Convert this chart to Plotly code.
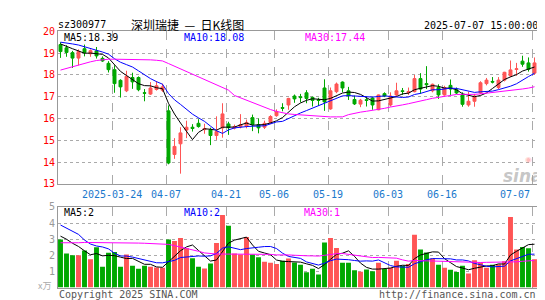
import plotly.graph_objects as go

# ---------------- data ----------------
dates = ["03-11","03-12","03-13","03-14","03-17","03-18","03-19","03-20","03-21","03-24",
         "03-25","03-26","03-27","03-28","03-31","04-01","04-02","04-03","04-07","04-08",
         "04-09","04-10","04-11","04-14","04-15","04-16","04-17","04-18","04-21","04-22",
         "04-23","04-24","04-25","04-28","04-29","04-30","05-06","05-07","05-08","05-09",
         "05-12","05-13","05-14","05-15","05-16","05-19","05-20","05-21","05-22","05-23",
         "05-26","05-27","05-28","05-29","05-30","06-03","06-04","06-05","06-06","06-09",
         "06-10","06-11","06-12","06-13","06-16","06-17","06-18","06-19","06-20","06-23",
         "06-24","06-25","06-26","06-27","06-30","07-01","07-02","07-03","07-04","07-07"]

opens = [19.39,19.24,19.02,18.77,19.20,18.97,19.10,18.76,18.53,18.24,
         17.75,17.27,17.88,17.88,17.18,17.12,17.33,17.30,16.35,14.35,
         14.84,15.47,15.60,15.78,15.49,15.48,15.22,15.57,15.75,15.56,
         15.62,15.65,16.04,15.72,15.60,15.82,16.13,16.50,16.62,17.03,
         17.00,17.18,16.97,16.86,17.40,16.44,17.23,17.67,17.27,16.87,
         16.66,16.86,16.94,16.40,17.14,16.62,17.08,17.27,17.18,17.23,
         17.83,17.60,17.27,17.42,17.08,17.52,17.32,17.10,16.62,16.79,
         17.17,17.60,17.70,17.42,17.76,17.96,18.25,18.63,18.55,18.08]
highs = [19.50,19.36,19.10,19.17,19.39,19.17,19.28,18.85,18.63,18.44,
         17.80,18.19,18.10,17.93,17.35,17.67,17.72,17.60,16.60,15.10,
         15.60,15.90,15.74,15.97,15.76,15.58,16.10,16.70,15.85,15.72,
         16.20,15.95,16.18,16.00,15.90,16.15,16.42,16.70,16.95,17.10,
         17.13,17.30,17.00,16.95,17.80,17.42,17.65,17.70,17.45,17.05,
         16.90,16.98,16.98,17.10,17.20,17.20,17.64,17.40,17.42,18.00,
         18.08,18.40,17.60,17.57,17.50,17.79,17.42,17.20,17.23,17.13,
         17.71,17.86,17.90,17.90,18.14,18.66,18.55,18.88,18.80,18.80]
lows = [18.78,18.83,18.32,18.44,18.85,18.83,18.75,18.60,18.11,17.18,
        16.96,17.21,17.36,17.25,16.79,17.08,17.28,17.22,13.90,14.15,
        13.47,15.10,15.40,15.58,15.30,14.78,15.02,15.12,15.25,15.50,
        15.55,15.55,15.42,15.32,15.52,15.75,16.08,16.33,16.40,16.72,
        16.74,16.70,16.55,16.58,16.35,16.40,17.16,17.20,16.85,16.62,
        16.52,16.55,16.40,16.38,16.98,16.55,17.02,17.08,17.08,17.20,
        17.13,17.35,17.20,16.90,17.05,17.08,17.12,16.54,16.54,16.54,
        17.12,17.52,17.61,17.35,17.70,17.90,17.96,18.37,18.15,18.00]
closes = [19.07,19.03,18.77,19.07,19.02,19.11,18.87,18.64,18.24,17.60,
          17.45,17.93,17.68,17.32,17.16,17.40,17.50,17.45,13.96,14.72,
          15.34,15.60,15.54,15.63,15.54,15.22,15.40,16.21,15.58,15.63,
          15.72,15.82,15.72,15.57,15.78,16.09,16.31,16.47,16.92,16.90,
          16.96,16.92,16.83,16.83,16.76,17.27,17.58,17.40,17.04,16.67,
          16.84,16.83,16.62,17.08,17.03,17.03,17.27,17.24,17.24,17.83,
          17.35,17.55,17.57,17.08,17.42,17.35,17.17,16.65,16.79,17.03,
          17.64,17.76,17.67,17.76,18.12,18.23,18.28,18.49,18.26,18.55]
volumes = [2.99,2.12,2.00,2.00,2.30,1.76,2.50,1.29,2.16,2.20,
           1.29,2.06,1.35,1.17,1.35,1.29,1.25,1.23,2.99,2.89,
           3.07,2.44,1.82,1.29,1.19,1.49,2.77,4.50,3.84,2.12,
           2.06,3.13,2.06,1.88,1.60,1.54,1.47,1.66,1.80,1.56,
           1.41,0.95,1.17,0.81,2.79,3.07,2.46,1.54,1.54,1.07,
           0.99,1.13,1.01,1.54,1.15,1.23,1.66,1.35,1.47,3.27,
           2.36,2.18,1.80,1.41,1.23,1.11,0.97,1.35,0.87,1.70,
           1.56,1.23,1.41,1.45,1.64,4.38,2.36,2.51,2.44,1.76]

# moving-average values before enough bars exist in the window
ma5_start = [19.42,19.30,19.20,19.10]
ma10_start = [19.50,19.47,19.42,19.37,19.30,19.22,19.13,19.05,18.95]
ma30_start = [18.22,18.30,18.38,18.46,18.53,18.60,18.66,18.70,18.72,18.72,
              18.72,18.72,18.72,18.71,18.70,18.69,18.67,18.64,18.52,18.40,
              18.28,18.16,18.04,17.92,17.80,17.68,17.56,17.44,17.30]
vma5_start = [3.19,3.00,2.75,2.55]
vma10_start = [3.88,3.70,3.50,3.30,2.95,2.70,2.58,2.52,2.40]
vma30_start = [2.78,2.77,2.76,2.78,2.80,2.80,2.80,2.80,2.80,2.80,
               2.79,2.78,2.77,2.76,2.75,2.74,2.73,2.72,2.68,2.60,
               2.52,2.45,2.35,2.25,2.15,2.10,2.08,2.08,2.08]

tick_dates = ["03-24","04-07","04-21","05-06","05-19","06-03","06-16","07-07"]
tick_text = ["2025-03-24","04-07","04-21","05-06","05-19","06-03","06-16","07-07"]

RED = "#ff5555"
GREEN = "#00a800"


def moving_avg(vals, n, start):
    out = list(start)
    for i in range(len(start), len(vals)):
        w = vals[i - n + 1:i + 1]
        out.append(sum(w) / n)
    return out


idx = list(range(len(dates)))
ma5 = moving_avg(closes, 5, ma5_start)
ma10 = moving_avg(closes, 10, ma10_start)
ma30 = moving_avg(closes, 30, ma30_start)
vma5 = moving_avg(volumes, 5, vma5_start)
vma10 = moving_avg(volumes, 10, vma10_start)
vma30 = moving_avg(volumes, 30, vma30_start)
vol_colors = [RED if c >= o else GREEN for o, c in zip(opens, closes)]
tick_vals = [dates.index(d) - 0.35 for d in tick_dates]

W, H = 545, 300
X0, X1 = 50, 531


def px(x):
    return x / W


def py(y):
    return 1 - y / H


fig = go.Figure()
fig.add_trace(go.Candlestick(
    x=idx, open=opens, high=highs, low=lows, close=closes,
    increasing=dict(line=dict(color=RED, width=1), fillcolor=RED),
    decreasing=dict(line=dict(color=GREEN, width=1), fillcolor=GREEN),
    whiskerwidth=0, xaxis="x", yaxis="y", hoverinfo="skip"))
for vals, col in [(ma5, "#000000"), (ma10, "#0000ff"), (ma30, "#ff00ff")]:
    fig.add_trace(go.Scatter(x=idx, y=vals, mode="lines", line=dict(color=col, width=1),
                             xaxis="x", yaxis="y", hoverinfo="skip"))
fig.add_trace(go.Bar(x=idx, y=volumes, marker=dict(color=vol_colors, line=dict(width=0)),
                     width=0.82, xaxis="x2", yaxis="y2", hoverinfo="skip"))
for vals, col in [(vma5, "#000000"), (vma10, "#0000ff"), (vma30, "#ff00ff")]:
    fig.add_trace(go.Scatter(x=idx, y=vals, mode="lines", line=dict(color=col, width=1),
                             xaxis="x2", yaxis="y2", hoverinfo="skip"))

MONO = "DejaVu Sans Mono"
GRID = "#aaaaaa"
FRAME = "#999999"
xr = [-0.4167, 79.75]
common_x = dict(range=xr, domain=[px(X0), px(X1)], tickvals=tick_vals, showgrid=True,
                gridcolor=GRID, griddash="dash", gridwidth=1, zeroline=False,
                showline=True, mirror=True, linecolor=FRAME, linewidth=1, ticks="",
                showticklabels=False, fixedrange=True, rangeslider=dict(visible=False))
fig.update_layout(
    width=W, height=H, margin=dict(l=0, r=0, t=0, b=0),
    paper_bgcolor="white", plot_bgcolor="white", showlegend=False, boxgap=0.3,
    xaxis=dict(**common_x, anchor="y"),
    xaxis2=dict(**common_x, anchor="y2"),
    yaxis=dict(domain=[py(177), py(18)], range=[13, 20], tickvals=list(range(13, 21)),
               showgrid=True, gridcolor=GRID, griddash="dot", zeroline=False,
               showline=True, mirror=True, linecolor=FRAME, linewidth=1, ticks="",
               tickfont=dict(family=MONO, size=10, color="#ff0000"), anchor="x"),
    yaxis2=dict(domain=[py(285), py(201)], range=[0, 5], tickvals=[1, 2, 3, 4, 5],
                showgrid=True, gridcolor=GRID, griddash="dot", zeroline=False,
                showline=True, mirror=True, linecolor=FRAME, linewidth=1, ticks="",
                tickfont=dict(family=MONO, size=10, color="#999999"), anchor="x2"),
)


def note(text, x, y, color="#000000", size=10, anchor="left", family=MONO, **kw):
    fig.add_annotation(text=text, x=px(x), y=py(y), xref="paper", yref="paper",
                       showarrow=False, xanchor=anchor, yanchor="middle",
                       font=dict(family=family, size=size, color=color, **kw))


# date labels under the price panel, placed on the data x scale
for k, (tv, tt) in enumerate(zip(tick_vals, tick_text)):
    last = k == len(tick_vals) - 1
    fig.add_annotation(text=tt, x=tv, y=py(187.5), xref="x", yref="paper",
                       showarrow=False, xanchor="right" if last else "center",
                       yanchor="middle",
                       font=dict(family=MONO, size=10, color="#1a78cc"))

note("sz300977", 48, 11)
note("深圳瑞捷  —  日K线图", 121, 11, size=12, family="Noto Sans CJK SC")
note("2025-07-07 15:00:00", 532, 12, anchor="right")
note("MA5:18.39", 54, 24.5)
note("MA10:18.08", 174, 24.5, color="#0000ff")
note("MA30:17.44", 295, 24.5, color="#ff00ff")
note("MA5:2", 54, 207)
note("MA10:2", 174, 207, color="#0000ff")
note("MA30:1", 294, 207, color="#ff00ff")
note("x万", 45, 283, color="#aaaaaa", size=9, anchor="right", family="Noto Sans CJK SC")
note("Copyright 2025 SINA.COM", 49, 292, color="#555555")
note("http://finance.sina.com.cn", 530, 292, color="#555555", anchor="right")
note("sina", 515, 169, color="rgba(150,150,150,0.55)", size=17, anchor="center",
     family="DejaVu Sans", weight="bold", style="italic")
note("◉", 520, 152, color="rgba(255,110,110,0.45)", size=8, anchor="center", family="DejaVu Sans")

fig.write_html("out.html")
